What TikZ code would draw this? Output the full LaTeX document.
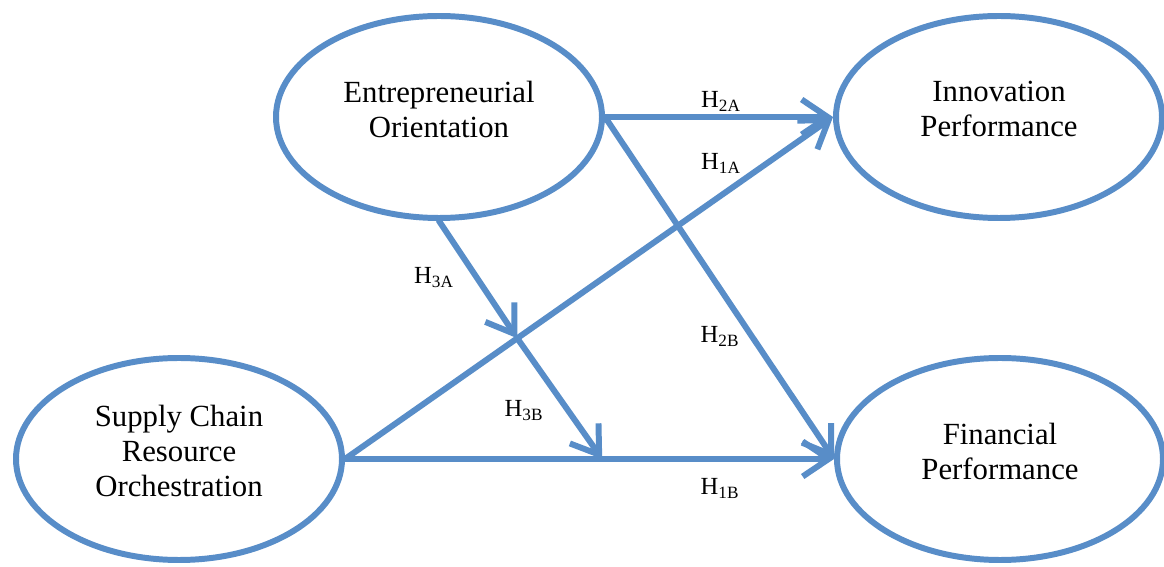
\documentclass[tikz,border=0pt]{standalone}
\usepackage{fontspec}
\setmainfont{Liberation Serif}
\usepackage{xcolor}
\usepackage{tikz}
\usetikzlibrary{arrows.meta,positioning,calc,shapes.geometric}

\definecolor{pathblue}{RGB}{88,141,200}

\begin{document}
\begin{tikzpicture}[
  font=\fontsize{17.5}{20}\selectfont,
  >={Straight Barb[length=5.2mm,width=7mm]},
  construct/.style={ellipse, draw=pathblue, line width=3.4pt, fill=white, align=center,
    inner sep=0pt, text depth=9pt, minimum width=6.52cm, minimum height=4.04cm},
  link/.style={->, draw=pathblue, line width=3.4pt, line cap=round, line join=round},
  hyp/.style={anchor=base, font=\fontsize{14}{16}\selectfont}
]
\useasboundingbox (0,0) rectangle (23.28,11.34);

\node[construct] (eo) at (8.78,9.0) {Entrepreneurial\\Orientation};
\node[construct] (scro) at (3.58,2.16) {Supply Chain\\Resource\\Orchestration};
\node[construct] (ip) at (19.98,9.0) {Innovation\\Performance};
\node[construct] (fp) at (20.0,2.16) {Financial\\Performance};

% moderation points on the SCRO paths
\coordinate (modA) at ($(scro.east)!0.353!(ip.west)$);
\coordinate (modB) at ($(scro.east)!0.526!(fp.west)$);

\draw[link] (eo.east) -- (ip.west);
\draw[link] (eo.east) -- (fp.west);
\draw[link] (scro.east) -- (ip.west);
\draw[link] (scro.east) -- (fp.west);
\draw[link] (eo.south) -- (modA);
\draw[link] (modA) -- (modB);

\node[hyp] (h2a) at (14.42,9.18) {H\textsubscript{2A}};
\node[hyp] (h1a) at (14.42,7.94) {H\textsubscript{1A}};
\node[hyp] (h2b) at (14.40,4.48) {H\textsubscript{2B}};
\node[hyp] (h1b) at (14.40,1.44) {H\textsubscript{1B}};
\node[hyp] (h3a) at (8.68,5.66) {H\textsubscript{3A}};
\node[hyp] (h3b) at (10.48,3.00) {H\textsubscript{3B}};
\end{tikzpicture}
\end{document}
